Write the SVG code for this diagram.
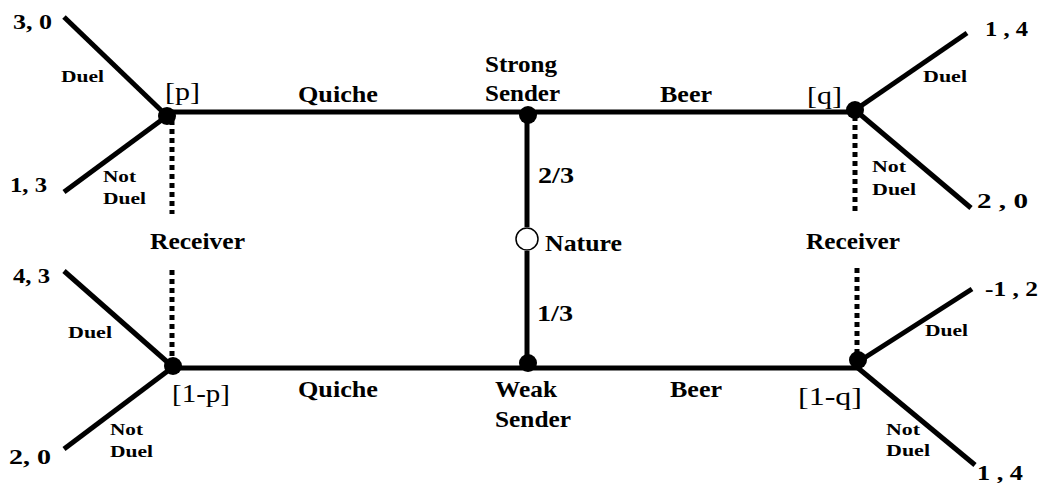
<svg xmlns="http://www.w3.org/2000/svg" width="1042" height="483" viewBox="0 0 1042 483">
  <style>
    .edge { stroke: #000; stroke-width: 5; fill: none; stroke-linecap: butt; }
    .info { stroke: #000; stroke-width: 5; fill: none; stroke-dasharray: 5 4; }
    .lbl { font-family: "Liberation Serif", "Times New Roman", serif; font-weight: bold; fill: #000; }
    .pay { font-size: 21px; }
    .act { font-size: 17px; }
    .name { font-size: 24px; }
    .belief { font-family: "Liberation Serif", "Times New Roman", serif; font-size: 26px; fill: #000; }
  </style>
  <rect width="1042" height="483" fill="#fff"/>

  <!-- connectors: signals, nature's moves, responses, information sets -->
  <g id="connectors">
    <line class="edge" x1="167" y1="112" x2="855" y2="112"/>
    <line class="edge" x1="173" y1="368" x2="858" y2="368"/>
    <line class="edge" x1="527" y1="116" x2="527" y2="227"/>
    <line class="edge" x1="527" y1="251" x2="527" y2="362"/>
    <line class="edge" x1="64" y1="17" x2="167" y2="116"/>
    <line class="edge" x1="64" y1="192" x2="167" y2="116"/>
    <line class="edge" x1="967" y1="33" x2="855" y2="110"/>
    <line class="edge" x1="971" y1="208" x2="855" y2="110"/>
    <line class="edge" x1="64" y1="271" x2="173" y2="367"/>
    <line class="edge" x1="64" y1="449" x2="173" y2="367"/>
    <line class="edge" x1="972" y1="289" x2="858" y2="362"/>
    <line class="edge" x1="975" y1="465" x2="858" y2="368"/>
    <line class="info" x1="172" y1="120" x2="172" y2="214"/>
    <line class="info" x1="172" y1="270" x2="172" y2="362"/>
    <line class="info" x1="855" y1="116" x2="855" y2="214"/>
    <line class="info" x1="857" y1="268" x2="857" y2="355"/>
  </g>

  <g id="nature">
    <circle cx="527" cy="239" r="11" fill="#fff" stroke="#000" stroke-width="1.5"/>
    <text class="lbl name" x="545" y="251" textLength="77" lengthAdjust="spacingAndGlyphs">Nature</text>
    <text class="lbl name" x="538" y="183" textLength="36" lengthAdjust="spacingAndGlyphs">2/3</text>
    <text class="lbl name" x="537" y="321" textLength="36" lengthAdjust="spacingAndGlyphs">1/3</text>
  </g>

  <g id="strong-sender">
    <circle cx="528" cy="115" r="9"/>
    <text class="lbl name" x="485" y="72" textLength="72" lengthAdjust="spacingAndGlyphs">Strong</text>
    <text class="lbl name" x="485" y="101" textLength="75" lengthAdjust="spacingAndGlyphs">Sender</text>
    <text class="lbl name" x="298" y="102" textLength="80" lengthAdjust="spacingAndGlyphs">Quiche</text>
    <text class="lbl name" x="660" y="102" textLength="52" lengthAdjust="spacingAndGlyphs">Beer</text>
  </g>

  <g id="weak-sender">
    <circle cx="528" cy="363" r="9"/>
    <text class="lbl name" x="495" y="397" textLength="62" lengthAdjust="spacingAndGlyphs">Weak</text>
    <text class="lbl name" x="495" y="427" textLength="76" lengthAdjust="spacingAndGlyphs">Sender</text>
    <text class="lbl name" x="298" y="397" textLength="80" lengthAdjust="spacingAndGlyphs">Quiche</text>
    <text class="lbl name" x="670" y="397" textLength="52" lengthAdjust="spacingAndGlyphs">Beer</text>
  </g>

  <g id="receiver-quiche-strong">
    <circle cx="167" cy="116" r="9"/>
    <text class="belief" x="165" y="100" textLength="35" lengthAdjust="spacingAndGlyphs">[p]</text>
    <text class="lbl pay" x="13" y="29" textLength="39" lengthAdjust="spacingAndGlyphs">3, 0</text>
    <text class="lbl act" x="61" y="82" textLength="43" lengthAdjust="spacingAndGlyphs">Duel</text>
    <text class="lbl pay" x="10" y="192" textLength="37" lengthAdjust="spacingAndGlyphs">1, 3</text>
    <text class="lbl act" x="103" y="182" textLength="33" lengthAdjust="spacingAndGlyphs">Not</text>
    <text class="lbl act" x="103" y="204" textLength="43" lengthAdjust="spacingAndGlyphs">Duel</text>
  </g>

  <g id="receiver-quiche-weak">
    <circle cx="173" cy="366" r="9"/>
    <text class="belief" x="172" y="402" textLength="58" lengthAdjust="spacingAndGlyphs">[1-p]</text>
    <text class="lbl pay" x="13" y="283" textLength="37" lengthAdjust="spacingAndGlyphs">4, 3</text>
    <text class="lbl act" x="68" y="338" textLength="44" lengthAdjust="spacingAndGlyphs">Duel</text>
    <text class="lbl pay" x="9" y="464" textLength="42" lengthAdjust="spacingAndGlyphs">2, 0</text>
    <text class="lbl act" x="110" y="435" textLength="33" lengthAdjust="spacingAndGlyphs">Not</text>
    <text class="lbl act" x="110" y="457" textLength="43" lengthAdjust="spacingAndGlyphs">Duel</text>
  </g>

  <g id="receiver-beer-strong">
    <circle cx="855" cy="110" r="9"/>
    <text class="belief" x="807" y="104" textLength="35" lengthAdjust="spacingAndGlyphs">[q]</text>
    <text class="lbl pay" x="985" y="36" textLength="43" lengthAdjust="spacingAndGlyphs">1 , 4</text>
    <text class="lbl act" x="923" y="82" textLength="44" lengthAdjust="spacingAndGlyphs">Duel</text>
    <text class="lbl pay" x="977" y="208" textLength="51" lengthAdjust="spacingAndGlyphs">2 , 0</text>
    <text class="lbl act" x="872" y="172" textLength="34" lengthAdjust="spacingAndGlyphs">Not</text>
    <text class="lbl act" x="872" y="195" textLength="44" lengthAdjust="spacingAndGlyphs">Duel</text>
  </g>

  <g id="receiver-beer-weak">
    <circle cx="858" cy="360" r="9"/>
    <text class="belief" x="798" y="405" textLength="64" lengthAdjust="spacingAndGlyphs">[1-q]</text>
    <text class="lbl pay" x="985" y="296" textLength="53" lengthAdjust="spacingAndGlyphs">-1 , 2</text>
    <text class="lbl act" x="925" y="336" textLength="43" lengthAdjust="spacingAndGlyphs">Duel</text>
    <text class="lbl pay" x="977" y="480" textLength="46" lengthAdjust="spacingAndGlyphs">1 , 4</text>
    <text class="lbl act" x="886" y="435" textLength="34" lengthAdjust="spacingAndGlyphs">Not</text>
    <text class="lbl act" x="886" y="456" textLength="44" lengthAdjust="spacingAndGlyphs">Duel</text>
  </g>

  <g id="information-sets">
    <text class="lbl name" x="150" y="249" textLength="95" lengthAdjust="spacingAndGlyphs">Receiver</text>
    <text class="lbl name" x="806" y="249" textLength="94" lengthAdjust="spacingAndGlyphs">Receiver</text>
  </g>
</svg>
